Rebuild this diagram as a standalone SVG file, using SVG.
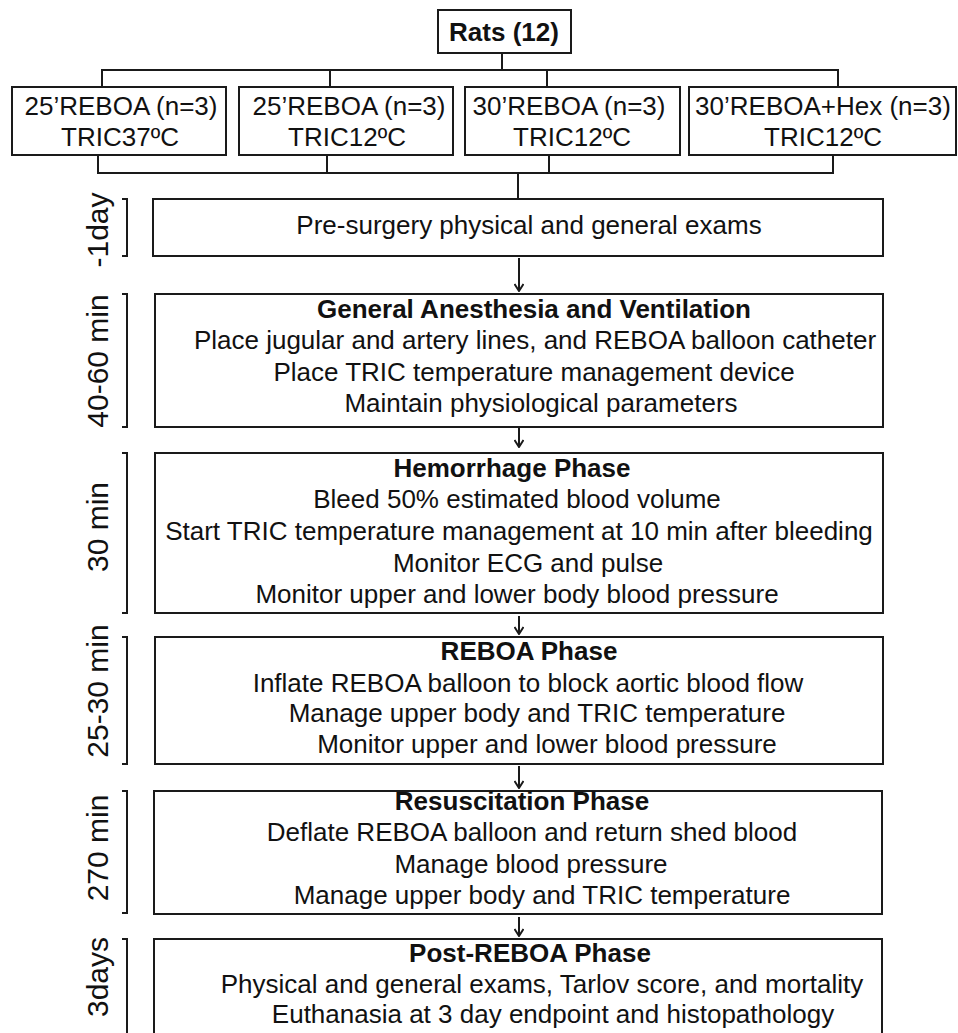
<svg xmlns="http://www.w3.org/2000/svg" width="958" height="1033" viewBox="0 0 958 1033">
<style>
.box{fill:#fff;stroke:#1a1a1a;stroke-width:2}
.ln{fill:none;stroke:#1a1a1a;stroke-width:2}
.t{font-family:"Liberation Sans",Arial,sans-serif;font-size:26px;fill:#111;text-anchor:middle}
.b{font-weight:bold}
.lab{font-family:"Liberation Sans",Arial,sans-serif;font-size:30px;fill:#111;text-anchor:middle}
</style>
<defs>
<marker id="ah" markerWidth="10" markerHeight="10" refX="9" refY="5" orient="auto" markerUnits="userSpaceOnUse" viewBox="0 0 10 10">
<polyline points="2,0.5 9,5 2,9.5" fill="none" stroke="#1a1a1a" stroke-width="2"/>
</marker>
</defs>
<rect width="958" height="1033" fill="#fff"/>
<g id="connectors">
<polyline class="ln" points="502,53 502,70"/>
<polyline class="ln" points="102,87 102,70 838,70 838,87"/>
<polyline class="ln" points="330,70 330,87"/>
<polyline class="ln" points="547,70 547,87"/>
<polyline class="ln" points="98,155 98,173 833,173 833,155"/>
<polyline class="ln" points="327,155 327,173"/>
<polyline class="ln" points="549,155 549,173"/>
<polyline class="ln" points="518,173 518,199"/>
<line class="ln" x1="519" y1="258" x2="519" y2="291" marker-end="url(#ah)"/>
<line class="ln" x1="519" y1="428" x2="519" y2="447" marker-end="url(#ah)"/>
<line class="ln" x1="519" y1="616" x2="519" y2="634" marker-end="url(#ah)"/>
<line class="ln" x1="519" y1="766" x2="519" y2="788" marker-end="url(#ah)"/>
<line class="ln" x1="519" y1="917" x2="519" y2="936" marker-end="url(#ah)"/>
</g>
<g id="rats">
<rect class="box" x="438" y="10" width="133" height="43"/>
<text class="t b" x="504" y="41">Rats (12)</text>
</g>
<g id="group1">
<rect class="box" x="12" y="87" width="214" height="68"/>
<text class="t" x="121" y="115">25’REBOA (n=3)</text>
<text class="t" x="120" y="146">TRIC37ºC</text>
</g>
<g id="group2">
<rect class="box" x="239" y="87" width="214" height="68"/>
<text class="t" x="349" y="115">25’REBOA (n=3)</text>
<text class="t" x="347" y="146">TRIC12ºC</text>
</g>
<g id="group3">
<rect class="box" x="465" y="87" width="215" height="68"/>
<text class="t" x="569" y="115">30’REBOA (n=3)</text>
<text class="t" x="572" y="146">TRIC12ºC</text>
</g>
<g id="group4">
<rect class="box" x="689" y="87" width="267" height="68"/>
<text class="t" x="823" y="115">30’REBOA+Hex (n=3)</text>
<text class="t" x="823" y="146">TRIC12ºC</text>
</g>
<g id="presurgery">
<rect class="box" x="153" y="199" width="730" height="57"/>
<text class="t" x="529" y="234">Pre-surgery physical and general exams</text>
<text class="lab" transform="translate(108,230) rotate(-90)" x="0" y="0">-1day</text>
<polyline class="ln" points="122,199 127,199 127,256 122,256"/>
</g>
<g id="anesthesia">
<rect class="box" x="155" y="294" width="728" height="133"/>
<text class="t b" x="534" y="318">General Anesthesia and Ventilation</text>
<text class="t" x="535" y="349">Place jugular and artery lines, and REBOA balloon catheter</text>
<text class="t" x="534" y="381">Place TRIC temperature management device</text>
<text class="t" x="541" y="412">Maintain physiological parameters</text>
<text class="lab" transform="translate(108,361) rotate(-90)" x="0" y="0">40-60 min</text>
<polyline class="ln" points="122,294 127,294 127,427 122,427"/>
</g>
<g id="hemorrhage">
<rect class="box" x="155" y="453" width="728" height="160"/>
<text class="t b" x="512" y="477">Hemorrhage Phase</text>
<text class="t" x="517" y="508">Bleed 50% estimated blood volume</text>
<text class="t" x="519" y="540">Start TRIC temperature management at 10 min after bleeding</text>
<text class="t" x="528" y="572">Monitor ECG and pulse</text>
<text class="t" x="517" y="603">Monitor upper and lower body blood pressure</text>
<text class="lab" transform="translate(108,527) rotate(-90)" x="0" y="0">30 min</text>
<polyline class="ln" points="122,453 127,453 127,613 122,613"/>
</g>
<g id="reboa">
<rect class="box" x="155" y="637" width="728" height="127"/>
<text class="t b" x="529" y="660">REBOA Phase</text>
<text class="t" x="528" y="692">Inflate REBOA balloon to block aortic blood flow</text>
<text class="t" x="537" y="722">Manage upper body and TRIC temperature</text>
<text class="t" x="547" y="753">Monitor upper and lower blood pressure</text>
<text class="lab" transform="translate(108,691) rotate(-90)" x="0" y="0">25-30 min</text>
<polyline class="ln" points="122,637 127,637 127,764 122,764"/>
</g>
<g id="resuscitation">
<rect class="box" x="154" y="791" width="728" height="123"/>
<text class="t b" x="522" y="810">Resuscitation Phase</text>
<text class="t" x="532" y="841">Deflate REBOA balloon and return shed blood</text>
<text class="t" x="531" y="873">Manage blood pressure</text>
<text class="t" x="542" y="904">Manage upper body and TRIC temperature</text>
<text class="lab" transform="translate(108,848) rotate(-90)" x="0" y="0">270 min</text>
<polyline class="ln" points="122,791 127,791 127,913 122,913"/>
</g>
<g id="postreboa">
<rect class="box" x="154" y="939" width="728" height="110"/>
<text class="t b" x="530" y="962">Post-REBOA Phase</text>
<text class="t" x="542" y="993">Physical and general exams, Tarlov score, and mortality</text>
<text class="t" x="553" y="1023">Euthanasia at 3 day endpoint and histopathology</text>
<text class="lab" transform="translate(108,977) rotate(-90)" x="0" y="0">3days</text>
<polyline class="ln" points="122,939 127,939 127,1040"/>
</g>
</svg>
